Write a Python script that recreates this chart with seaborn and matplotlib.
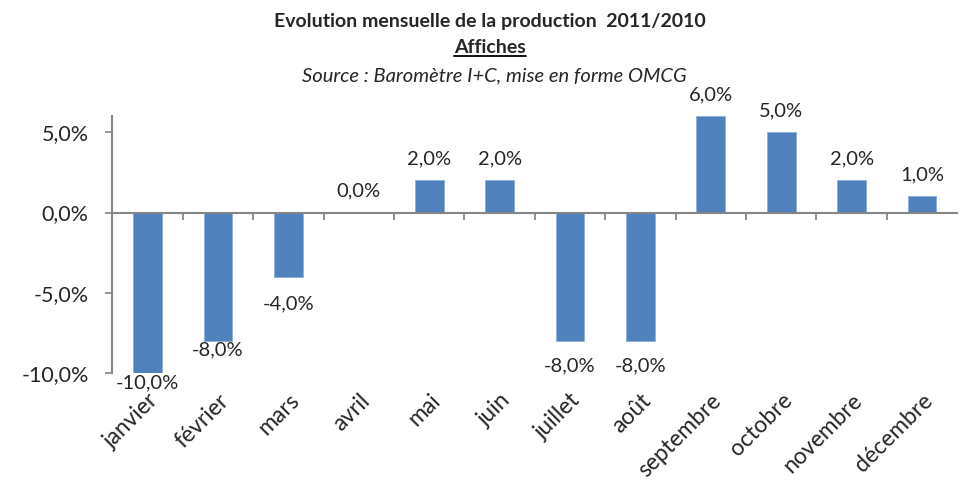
import matplotlib
matplotlib.use("Agg")
import matplotlib.pyplot as plt
from matplotlib.lines import Line2D
from matplotlib.ticker import FixedLocator
import pandas as pd
import seaborn as sns

# DATA
mois = ['janvier', 'février', 'mars', 'avril', 'mai', 'juin', 'juillet',
        'août', 'septembre', 'octobre', 'novembre', 'décembre']
evolution = [-10.0, -8.0, -4.0, 0.0, 2.0, 2.0, -8.0, -8.0, 6.0, 5.0, 2.0, 1.0]
y_ticks = [-10, -5, 0, 5]

# label gap from the bar end, in pixels (excel moved some of them)
label_gap_px = [4, 3, 21, 16, 16, 16, 19, 19, 16, 16, 16, 16]

df = pd.DataFrame({'mois': mois, 'evolution': evolution})

sns.set_style('white')
plt.rcParams['font.family'] = ['Lato', 'DejaVu Sans']

bleu = '#4F81BD'
gris = '#868686'

def fr_pct(v):
    return f"{v:.1f}%".replace('.', ',')

fig = plt.figure(figsize=(9.61, 4.82), dpi=100)
ax_h = 0.533
ax = fig.add_axes([0.117, 0.226, 0.879, ax_h])

sns.barplot(data=df, x='mois', y='evolution', color=bleu, width=0.41,
            saturation=1, edgecolor='#8FB0D8', linewidth=0.6, ax=ax, zorder=2)

ymin, ymax = -10, 6
ax.set_ylim(ymin, ymax)
ax.set_xlim(-0.5, len(mois) - 0.5)
ax.set_yticks(y_ticks)
ax.set_yticklabels([fr_pct(v) for v in y_ticks], fontsize=15.5)
ax.set_xlabel('')
ax.set_ylabel('')

for s in ['top', 'right']:
    ax.spines[s].set_visible(False)
ax.spines['left'].set_color(gris)
ax.spines['left'].set_linewidth(1.5)

# category axis line at zero, boundary ticks pointing down
ax.spines['bottom'].set_position(('data', 0))
ax.spines['bottom'].set_color(gris)
ax.spines['bottom'].set_linewidth(1.5)
ax.spines['bottom'].set_zorder(3)
ax.xaxis.set_minor_locator(FixedLocator([i + 0.5 for i in range(len(mois) - 1)]))
ax.tick_params(axis='x', which='minor', bottom=True, length=5, width=1.3,
               color=gris, direction='out')

# month labels pushed down to the bottom of the plot area
drop_pt = (0 - ymin) / (ymax - ymin) * ax_h * 482 * 72 / 100
ax.set_xticks(range(len(mois)))
ax.set_xticklabels(mois, rotation=45, ha='right', va='top',
                   rotation_mode='anchor', fontsize=16.5)
ax.tick_params(axis='x', which='major', bottom=True, length=0,
               pad=drop_pt + 12)
ax.tick_params(axis='y', left=True, length=5, width=1.2, color=gris,
               direction='out', pad=12)

# data labels
px = 72 / 100
for i, v in enumerate(evolution):
    gap = label_gap_px[i] * px
    if v >= 0:
        ax.annotate(fr_pct(v), (i, v), xytext=(0, gap), textcoords='offset points',
                    ha='center', va='baseline', fontsize=14.5, annotation_clip=False)
    else:
        ax.annotate(fr_pct(v), (i, v), xytext=(0, -gap + 2), textcoords='offset points',
                    ha='center', va='top', fontsize=14.5, annotation_clip=False)

# titles
xt = 490 / 961
fig.text(xt, 1 - 27 / 482, 'Evolution mensuelle de la production  2011/2010',
         ha='center', va='baseline', fontsize=14, fontweight='bold')
t2 = fig.text(xt, 1 - 53 / 482, 'Affiches', ha='center', va='baseline',
              fontsize=14, fontweight='bold')
fig.text(xt + 0.005, 1 - 81 / 482, 'Source : Baromètre I+C, mise en forme OMCG',
         ha='center', va='baseline', fontsize=14.5, style='italic')

fig.canvas.draw()
bb = t2.get_window_extent().transformed(fig.transFigure.inverted())
yl = 1 - 55.5 / 482
fig.add_artist(Line2D([bb.x0, bb.x1], [yl, yl],
                      transform=fig.transFigure, color='black', lw=1.3))

fig.savefig('out.png', dpi=100)
